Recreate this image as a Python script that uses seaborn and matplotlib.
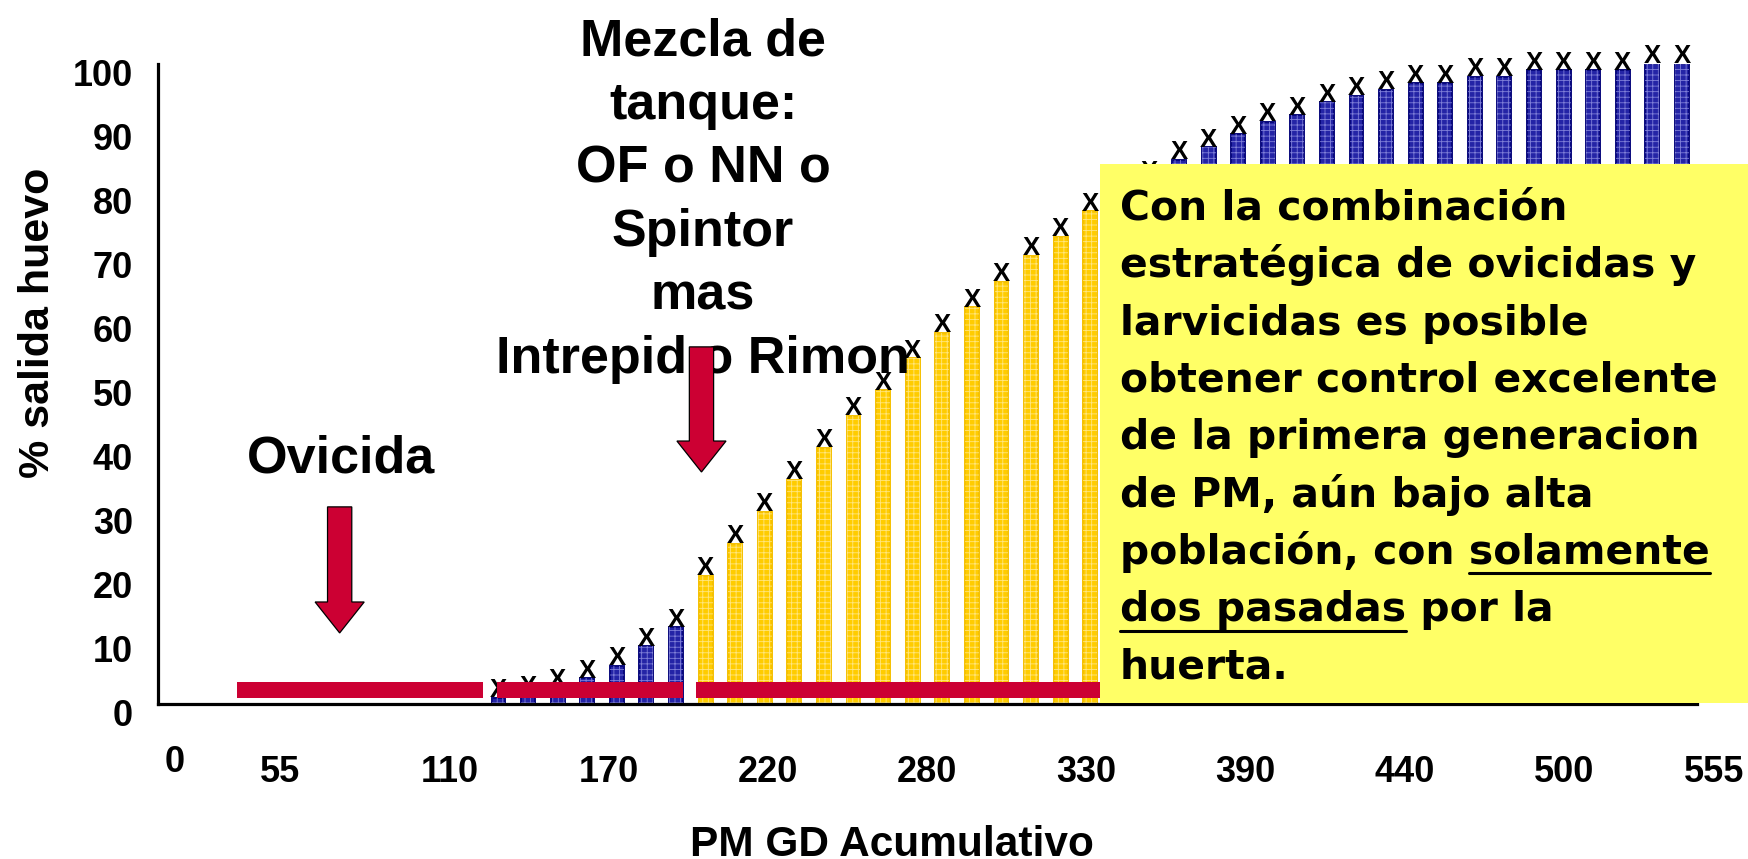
import numpy as np
import pandas as pd
import matplotlib
matplotlib.use("Agg")
import matplotlib.pyplot as plt
import seaborn as sns
from matplotlib.patches import Rectangle, FancyArrow
from matplotlib.lines import Line2D
from matplotlib import transforms

# ---------------- data ----------------
# interval number along the accumulated degree-day (GD) axis
intervalo = list(range(11, 52))
# cumulative % egg hatch per interval
salida_huevo = [1, 1.5, 2.5, 4, 6, 9, 12,
                20, 25, 30, 35, 40, 45, 49, 54, 58, 62, 66, 70, 73, 77, 80, 82,
                85, 87, 89, 91, 92, 94, 95, 96, 97, 97, 98, 98, 99, 99, 99, 99, 100, 100]
fase = ["sin cobertura"] * 7 + ["con cobertura"] * 16 + ["sin cobertura"] * 18

gd_labels = ["0", "55", "110", "170", "220", "280", "330", "390", "440", "500", "555"]
gd_label_pos = [0.06, 3.61, 9.34, 14.73, 20.10, 25.47, 30.86, 36.25, 41.63, 47.01, 52.08]

# spray coverage windows, in interval units
tratamientos = [(2.17, 10.49), (10.94, 17.23), (17.68, 31.33)]

# application arrows: (interval, top, tip) in chart units
flechas = [(5.63, 30.8, 11.1), (17.86, 55.8, 36.25)]

mezcla_lines = ["Mezcla de", "tanque:", "OF o NN o", "Spintor", "mas", "Intrepid o Rimon"]
nota_lines = [
    "Con la combinación",
    "estratégica de ovicidas y",
    "larvicidas es posible",
    "obtener control excelente",
    "de la primera generacion",
    "de PM, aún bajo alta",
    "población, con solamente",
    "dos pasadas por la",
    "huerta.",
]
nota_subrayado = {6: ("solamente", "end"), 7: ("dos pasadas", "start")}

# ---------------- style ----------------
BLUE = "#2424a6"
BLUE_EDGE = "#08087c"
BLUE_HATCH = "#7f7fd8"
YELLOW = "#ffcc00"
YELLOW_EDGE = "#f5c000"
YELLOW_HATCH = "#ffe680"
RED = "#cc0033"
NOTE_BG = "#ffff66"

sns.set_style("white")
plt.rcParams["font.family"] = ["Liberation Sans", "DejaVu Sans"]
plt.rcParams.update({
    "text.color": "black",
    "axes.labelcolor": "black",
    "xtick.color": "black",
    "ytick.color": "black",
    "hatch.linewidth": 0.6,
})

W, H = 1748, 859
fig = plt.figure(figsize=(W / 100, H / 100), dpi=100)
fx = lambda x: x / W
fy = lambda y: 1 - y / H

ax = fig.add_axes([fx(158.3), (H - 704) / H, 1568 / W, 640 / H])

df = pd.DataFrame({"intervalo": intervalo, "pct": salida_huevo, "fase": fase})
sns.barplot(data=df, x="intervalo", y="pct", hue="fase",
            palette={"sin cobertura": BLUE, "con cobertura": YELLOW},
            native_scale=True, width=0.47, dodge=False, legend=False,
            saturation=1, errorbar=None, ax=ax, zorder=1)

bars = list(ax.patches)
for p in bars:
    is_yellow = np.allclose(p.get_facecolor()[:3], matplotlib.colors.to_rgb(YELLOW), atol=0.02)
    p.set_edgecolor(YELLOW_EDGE if is_yellow else BLUE_EDGE)
    p.set_linewidth(1.4)
    overlay = Rectangle(p.get_xy(), p.get_width(), p.get_height(), fill=False,
                        hatch="+++", edgecolor=YELLOW_HATCH if is_yellow else BLUE_HATCH,
                        linewidth=0, zorder=1.5)
    ax.add_patch(overlay)

ax.set_xlim(-0.5, 52.5)
ax.set_ylim(0, 100)
ax.set_xlabel("")
ax.set_ylabel("")

for s in ["top", "right"]:
    ax.spines[s].set_visible(False)
for s in ["left", "bottom"]:
    ax.spines[s].set_linewidth(2.3)
    ax.spines[s].set_color("black")
ax.spines["bottom"].set_bounds(-0.5, 51.5)

# y axis
ax.set_yticks(range(0, 101, 10))
ax.tick_params(axis="y", which="major", direction="out", length=8.4, width=2.2,
               pad=9.8, labelsize=26, color="black", labelcolor="black")
for lab in ax.get_yticklabels():
    lab.set_fontweight("bold")
    lab.set_transform(lab.get_transform() +
                      transforms.ScaledTranslation(0, -6 / 72, fig.dpi_scale_trans))

# x axis: GD labels on major ticks, interval boundaries as minor ticks
ax.set_xticks(gd_label_pos)
ax.set_xticklabels(gd_labels, fontsize=26, fontweight="bold")
ax.set_xticks(np.arange(-0.5, 52, 1), minor=True)
ax.tick_params(axis="x", which="major", length=0, pad=36.5, labelcolor="black")
ax.tick_params(axis="x", which="minor", direction="out", length=7.2, width=2.2, color="black")
ax.xaxis.get_major_ticks()[0].set_pad(29.5)

ax.set_ylabel("% salida huevo", fontsize=31, fontweight="bold", color="black")
ax.yaxis.label.set_va("center")
ax.yaxis.set_label_coords((38 - 158.3) / 1568, (704 - 323) / 640)
ax.set_xlabel("PM GD Acumulativo", fontsize=30.5, fontweight="bold", color="black")
ax.xaxis.label.set_va("baseline")
ax.xaxis.set_label_coords((892 - 158.3) / 1568, (704 - 856) / 640)

# hatch markers on top of each bar
for xv, yv in zip(intervalo, salida_huevo):
    ax.annotate("X", (xv, yv), xytext=(0, 0.5), textcoords="offset points",
                ha="center", va="baseline", fontsize=18.5, fontweight="bold",
                color="black", zorder=3, annotation_clip=False)

# spray coverage bars
for a, b in tratamientos:
    ax.add_patch(Rectangle((a, 0.94), b - a, 2.5, facecolor=RED, edgecolor="none",
                           zorder=4, clip_on=False))

# application arrows
for xc, top, tip in flechas:
    ax.add_patch(FancyArrow(xc, top, 0, tip - top, width=0.82, head_width=1.66,
                            head_length=4.84, length_includes_head=True,
                            facecolor=RED, edgecolor="black", linewidth=0.9,
                            zorder=5, clip_on=False))

# labels for the two applications
for k, line in enumerate(mezcla_lines):
    ax.text(fx(703), fy(55 + 63.7 * k), line, transform=fig.transFigure,
            ha="center", va="baseline", fontsize=37.5, fontweight="bold",
            color="black", zorder=2, clip_on=False)
ax.text(fx(341), fy(472), "Ovicida", transform=fig.transFigure, ha="center",
        va="baseline", fontsize=37.5, fontweight="bold", color="black",
        zorder=2, clip_on=False)

# note box
fig.patches.append(Rectangle((fx(1100), fy(702.5)), fx(W - 1100) + 0.01, (702.5 - 164) / H,
                             transform=fig.transFigure, facecolor=NOTE_BG,
                             edgecolor="none", zorder=6))
fig.canvas.draw()
renderer = fig.canvas.get_renderer()
note_font = dict(family=["DejaVu Sans"], fontweight="bold", color="black")

probe = fig.text(0, 0, "obtener control excelente", fontsize=30, **note_font)
note_size = 30 * 597 / probe.get_window_extent(renderer).width
probe.remove()

for k, line in enumerate(nota_lines):
    base = 220 + 57.3 * k
    t = fig.text(fx(1120), fy(base), line, ha="left", va="baseline",
                 fontsize=note_size, zorder=7, **note_font)
    if k in nota_subrayado:
        sub, where = nota_subrayado[k]
        bb = t.get_window_extent(renderer)
        tmp = fig.text(0, 0, sub, fontsize=note_size, **note_font)
        w_sub = tmp.get_window_extent(renderer).width
        tmp.remove()
        if where == "end":
            x0, x1 = bb.x1 - w_sub, bb.x1
        else:
            x0, x1 = bb.x0, bb.x0 + w_sub
        yl = fy(base + 9.5)
        fig.add_artist(Line2D([x0 / W, x1 / W], [yl, yl], transform=fig.transFigure,
                              color="black", linewidth=2.2, zorder=7))

fig.savefig("out.png", dpi=100)
